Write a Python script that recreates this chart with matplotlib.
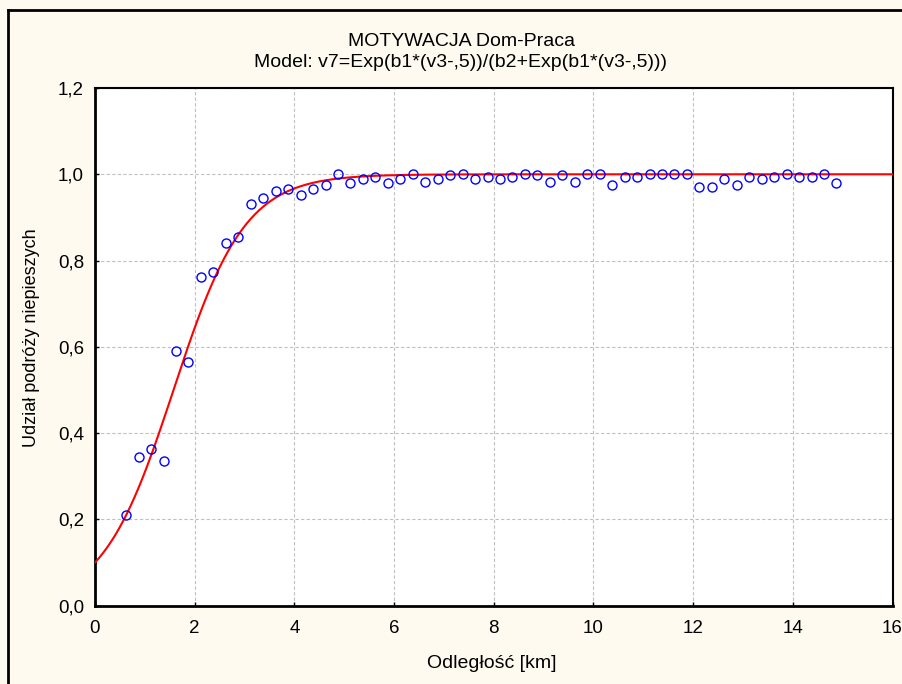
import matplotlib
matplotlib.use("Agg")
import matplotlib.pyplot as plt
import numpy as np
from matplotlib.lines import Line2D

plt.rcParams['font.family'] = ['Liberation Sans', 'DejaVu Sans']

# Observed shares of unhurried trips by distance bin
distance_km = [0.625, 0.875, 1.125, 1.375, 1.625, 1.875, 2.125, 2.375, 2.625, 2.875,
               3.125, 3.375, 3.625, 3.875, 4.125, 4.375, 4.625, 4.875, 5.125, 5.375,
               5.625, 5.875, 6.125, 6.375, 6.625, 6.875, 7.125, 7.375, 7.625, 7.875,
               8.125, 8.375, 8.625, 8.875, 9.125, 9.375, 9.625, 9.875, 10.125, 10.375,
               10.625, 10.875, 11.125, 11.375, 11.625, 11.875, 12.125, 12.375, 12.625, 12.875,
               13.125, 13.375, 13.625, 13.875, 14.125, 14.375, 14.625, 14.875]
share = [0.211, 0.345, 0.363, 0.336, 0.591, 0.564, 0.761, 0.774, 0.841, 0.854,
         0.930, 0.944, 0.962, 0.966, 0.953, 0.966, 0.975, 1.000, 0.979, 0.988,
         0.993, 0.979, 0.988, 1.000, 0.983, 0.988, 0.998, 1.000, 0.988, 0.993,
         0.988, 0.993, 1.000, 0.998, 0.983, 0.998, 0.983, 1.000, 1.000, 0.975,
         0.993, 0.993, 1.000, 1.000, 1.000, 1.000, 0.971, 0.971, 0.988, 0.975,
         0.993, 0.988, 0.993, 1.000, 0.993, 0.993, 1.000, 0.979]

# Fitted logistic model parameters
b1 = 1.395
b2 = 4.48

x_ticks = [0, 2, 4, 6, 8, 10, 12, 14, 16]
y_ticks = [0.0, 0.2, 0.4, 0.6, 0.8, 1.0, 1.2]
y_tick_labels = ["0,0", "0,2", "0,4", "0,6", "0,8", "1,0", "1,2"]

W, H = 902, 684
bg = "#fffaf0"
fig = plt.figure(figsize=(W / 100, H / 100), dpi=100, facecolor=bg)
ax = fig.add_axes([95 / W, 1 - 605.7 / H, (892.5 - 95) / W, (605.7 - 88) / H])
ax.set_facecolor("white")

xs = np.linspace(0, 16, 400)
model = np.exp(b1 * (xs - 0.5)) / (b2 + np.exp(b1 * (xs - 0.5)))
ax.plot(xs, model, color="red", lw=1.5, zorder=3)
ax.plot(distance_km, share, linestyle="none", marker="o", markersize=6.5,
        markerfacecolor="none", markeredgecolor="blue", markeredgewidth=1.0, zorder=4)

ax.set_xlim(0, 16)
ax.set_ylim(0, 1.2)
ax.set_xticks(x_ticks)
ax.set_xticklabels([str(t) for t in x_ticks])
ax.set_yticks(y_ticks)
ax.set_yticklabels(y_tick_labels)
ax.tick_params(direction="in", length=3, width=1, labelsize=13.5, colors="black")
ax.tick_params(axis="x", pad=10)
ax.tick_params(axis="y", pad=8)
ax.grid(True, color="#c0c0c0", linestyle=(0, (3, 2)), linewidth=0.8)
ax.set_axisbelow(True)
for side in ["left", "bottom"]:
    ax.spines[side].set_linewidth(2)
for side in ["right", "top"]:
    ax.spines[side].set_linewidth(1.5)

fig.text(492 / W, 1 - 663 / H, "Odległość [km]", ha="center", va="center", fontsize=14)
fig.text(32 / W, 1 - 338 / H, "Udział podróży niepieszych", ha="center", va="center",
         rotation=90, fontsize=13)

fig.text(461 / W, 1 - 46 / H, "MOTYWACJA Dom-Praca", ha="center", va="baseline", fontsize=14)
fig.text(461 / W, 1 - 67 / H, "Model: v7=Exp(b1*(v3-,5))/(b2+Exp(b1*(v3-,5)))",
         ha="center", va="baseline", fontsize=14)

# Outer frame (top and left edges)
fig.add_artist(Line2D([8 / W, 1.0], [1 - 10 / H, 1 - 10 / H], color="black", lw=2,
                      transform=fig.transFigure))
fig.add_artist(Line2D([8 / W, 8 / W], [1 - 10 / H, 0.0], color="black", lw=2,
                      transform=fig.transFigure))

fig.savefig("out.png", dpi=100, facecolor=bg)
